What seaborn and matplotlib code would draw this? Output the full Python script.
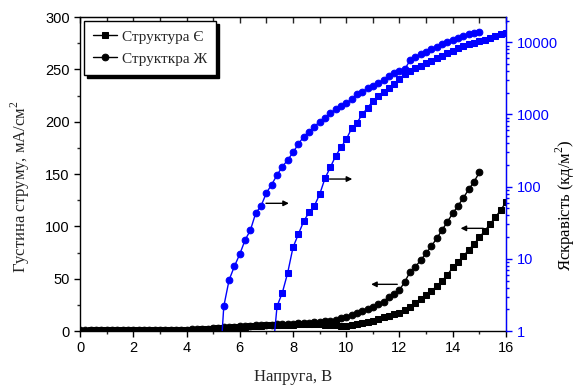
import matplotlib
matplotlib.use("Agg")
import matplotlib.pyplot as plt
import matplotlib.ticker as mticker
import seaborn as sns
import pandas as pd

# ---------------- data ----------------
voltage = [0.0, 0.2, 0.4, 0.6, 0.8, 1.0, 1.2, 1.4, 1.6, 1.8, 2.0, 2.2, 2.4, 2.6, 2.8,
           3.0, 3.2, 3.4, 3.6, 3.8, 4.0, 4.2, 4.4, 4.6, 4.8, 5.0, 5.2, 5.4, 5.6, 5.8,
           6.0, 6.2, 6.4, 6.6, 6.8, 7.0, 7.2, 7.4, 7.6, 7.8, 8.0, 8.2, 8.4, 8.6, 8.8,
           9.0, 9.2, 9.4, 9.6, 9.8, 10.0, 10.2, 10.4, 10.6, 10.8, 11.0, 11.2, 11.4,
           11.6, 11.8, 12.0, 12.2, 12.4, 12.6, 12.8, 13.0, 13.2, 13.4, 13.6, 13.8,
           14.0, 14.2, 14.4, 14.6, 14.8, 15.0, 15.2, 15.4, 15.6, 15.8, 16.0]

# Структура Є: current density (mA/cm^2), 0..16 V
current_e = [0.4, 0.4, 0.5, 0.5, 0.5, 0.5, 0.5, 0.6, 0.6, 0.6, 0.6, 0.7, 0.7, 0.7, 0.8,
             0.8, 0.9, 0.9, 1.0, 1.0, 1.1, 1.2, 1.4, 1.6, 1.9, 2.2, 2.5, 2.9, 3.2, 3.6,
             4.0, 4.3, 4.6, 4.9, 5.1, 5.3, 5.5, 5.7, 5.9, 6.0, 6.2, 6.3, 6.4, 6.5, 6.5,
             6.4, 6.2, 5.9, 5.4, 4.9, 4.8, 5.4, 6.4, 7.3, 8.3, 9.6, 11.2, 13.1, 14.3,
             15.9, 17.5, 20.1, 23.2, 26.5, 30.3, 34.4, 38.2, 43.0, 48.1, 53.5, 60.8,
             66.2, 71.6, 77.4, 83.1, 89.5, 95.5, 102.2, 108.6, 115.6, 123.0]

# Структура Ж: current density (mA/cm^2), 0..15 V
voltage_zh = voltage[:76]
current_zh = [0.5, 0.5, 0.5, 0.6, 0.6, 0.6, 0.6, 0.7, 0.7, 0.7, 0.8, 0.8, 0.8, 0.9, 0.9,
              1.0, 1.0, 1.1, 1.2, 1.3, 1.4, 1.6, 1.8, 2.0, 2.3, 2.6, 3.0, 3.4, 3.8, 4.2,
              4.6, 4.9, 5.2, 5.5, 5.8, 6.0, 6.2, 6.4, 6.6, 6.8, 7.0, 7.3, 7.6, 7.9, 8.3,
              8.7, 9.2, 9.8, 10.5, 12.1, 13.7, 15.3, 16.9, 19.1, 21.0, 23.2, 25.8, 28.0,
              32.8, 35.3, 39.2, 47.1, 56.6, 61.4, 67.8, 74.2, 81.2, 88.5, 96.5, 104.4,
              112.4, 119.7, 127.3, 135.3, 142.6, 151.6]

# Brightness (cd/m^2)
voltage_lum_zh = voltage[26:76]
lum_zh = [0.15, 2.2, 5.1, 7.9, 11.6, 18.2, 25, 43, 54, 82, 107, 145, 189, 234, 298,
          389, 493, 575, 676, 794, 900, 1035, 1175, 1306, 1420, 1630, 1910, 2050,
          2300, 2500, 2750, 3000, 3400, 3700, 4030, 4250, 5650, 6270, 6900, 7400,
          8000, 8700, 9400, 10000, 10700, 11500, 12200, 12900, 13300, 13700]

voltage_lum_e = voltage[36:81]
lum_e = [0.35, 2.2, 3.4, 6.4, 14.4, 21.9, 33, 44, 54, 78, 130, 185, 265, 350, 452,
         640, 767, 1000, 1240, 1530, 1810, 2070, 2300, 2630, 3150, 3620, 4000, 4350,
         4680, 5100, 5450, 6000, 6430, 7000, 7550, 8220, 8820, 9400, 9800, 10300,
         10900, 11500, 12200, 12900, 13300]

labels = ["Структура Є", "Структкра Ж"]
x_label = "Напруга, В"
y_label = "Густина струму, мА/см$^2$"
y2_label = "Яскравість (кд/м$^2$)"

# ---------------- style ----------------
sns.set_style("ticks")
plt.rcParams["font.family"] = ["Liberation Sans", "DejaVu Sans"]
plt.rcParams["mathtext.fontset"] = "custom"
plt.rcParams["mathtext.rm"] = "Liberation Serif"
SERIF = ["Liberation Serif", "DejaVu Serif"]
BLUE = "#0000ff"

fig = plt.figure(figsize=(5.82, 3.87), dpi=100)
ax = fig.add_axes([0.1375, 0.1447, 0.8694 - 0.1375, 0.956 - 0.1447])

df_e = pd.DataFrame({"V": voltage, "J": current_e})
df_zh = pd.DataFrame({"V": voltage_zh, "J": current_zh})

sns.lineplot(data=df_e, x="V", y="J", ax=ax, color="black", marker="s", markersize=4.3,
             markeredgecolor="black", linewidth=1, label=labels[0], sort=False)
sns.lineplot(data=df_zh, x="V", y="J", ax=ax, color="black", marker="o", markersize=4.8,
             markeredgecolor="black", linewidth=1, label=labels[1], sort=False)

ax.set_xlim(0, 16)
ax.set_ylim(0, 300)
ax.xaxis.set_major_locator(mticker.MultipleLocator(2))
ax.xaxis.set_minor_locator(mticker.MultipleLocator(1))
ax.yaxis.set_major_locator(mticker.MultipleLocator(50))
ax.yaxis.set_minor_locator(mticker.MultipleLocator(25))
ax.tick_params(axis="both", which="major", direction="out", length=4, width=1,
               labelsize=10.5, colors="black")
ax.tick_params(axis="both", which="minor", direction="out", length=2.5, width=1)
for s in ["left", "bottom", "top"]:
    ax.spines[s].set_color("black")
    ax.spines[s].set_linewidth(1)

top = ax.secondary_xaxis("top")
top.xaxis.set_major_locator(mticker.MultipleLocator(1))
top.tick_params(direction="in", length=4, width=1, labeltop=False)

ax.set_xlabel(x_label, fontsize=12, family=SERIF)
ax.set_ylabel(y_label, fontsize=12, family=SERIF)
ax.xaxis.set_label_coords(0.5, -0.122)
ax.yaxis.set_label_coords(-0.113, 0.46)

# right axis: brightness
ax2 = ax.twinx()
df_le = pd.DataFrame({"V": voltage_lum_e, "L": lum_e})
df_lz = pd.DataFrame({"V": voltage_lum_zh, "L": lum_zh})
sns.lineplot(data=df_le, x="V", y="L", ax=ax2, color=BLUE, marker="s", markersize=4.3,
             markeredgecolor=BLUE, linewidth=1, sort=False, legend=False)
sns.lineplot(data=df_lz, x="V", y="L", ax=ax2, color=BLUE, marker="o", markersize=4.8,
             markeredgecolor=BLUE, linewidth=1, sort=False, legend=False)
ax2.set_yscale("log")
ax2.set_ylim(1, 22400)
ax2.set_xlim(0, 16)
ax2.yaxis.set_major_locator(mticker.FixedLocator([1, 10, 100, 1000, 10000]))
ax2.yaxis.set_major_formatter(mticker.FixedFormatter(["1", "10", "100", "1000", "10000"]))
ax2.yaxis.set_minor_locator(mticker.LogLocator(base=10, subs=range(2, 10), numticks=20))
ax2.yaxis.set_minor_formatter(mticker.NullFormatter())
ax2.tick_params(axis="y", which="major", direction="out", length=4, width=1,
                labelsize=10.5, colors=BLUE)
ax2.tick_params(axis="y", which="minor", direction="out", length=2.5, width=1, colors=BLUE)
ax2.spines["right"].set_color(BLUE)
ax2.spines["right"].set_linewidth(1)
ax2.spines["left"].set_visible(False)
ax2.spines["top"].set_visible(False)
ax2.spines["bottom"].set_visible(False)
ax2.set_ylabel(y2_label, fontsize=12, family=SERIF)
ax2.yaxis.label.set_color("black")
ax2.yaxis.set_label_coords(1.113, 0.40)

# annotation arrows (left-axis data coordinates)
arrow_kw = dict(arrowstyle="-|>", color="black", lw=1, mutation_scale=8)
ax.annotate("", xy=(7.95, 122), xytext=(6.88, 122), arrowprops=arrow_kw)
ax.annotate("", xy=(10.33, 145.2), xytext=(9.27, 145.2), arrowprops=arrow_kw)
ax.annotate("", xy=(10.83, 44.6), xytext=(12.02, 44.6), arrowprops=arrow_kw)
ax.annotate("", xy=(14.19, 98.1), xytext=(15.25, 98.1), arrowprops=arrow_kw)

# legend
handles, lbls = ax.get_legend_handles_labels()
if ax.legend_:
    ax.legend_.remove()
leg = ax2.legend(handles, lbls, loc="upper left", bbox_to_anchor=(0.0, 1.0),
                 borderaxespad=0.25, frameon=True, fancybox=False,
                 shadow={"color": "black", "alpha": 1},
                 prop={"family": SERIF, "size": 11}, handlelength=1.6,
                 handletextpad=0.3, labelspacing=0.55, borderpad=0.6)
leg.get_frame().set_edgecolor("black")
leg.get_frame().set_linewidth(1)
leg.get_frame().set_alpha(1)

fig.savefig("out.png", dpi=100)
